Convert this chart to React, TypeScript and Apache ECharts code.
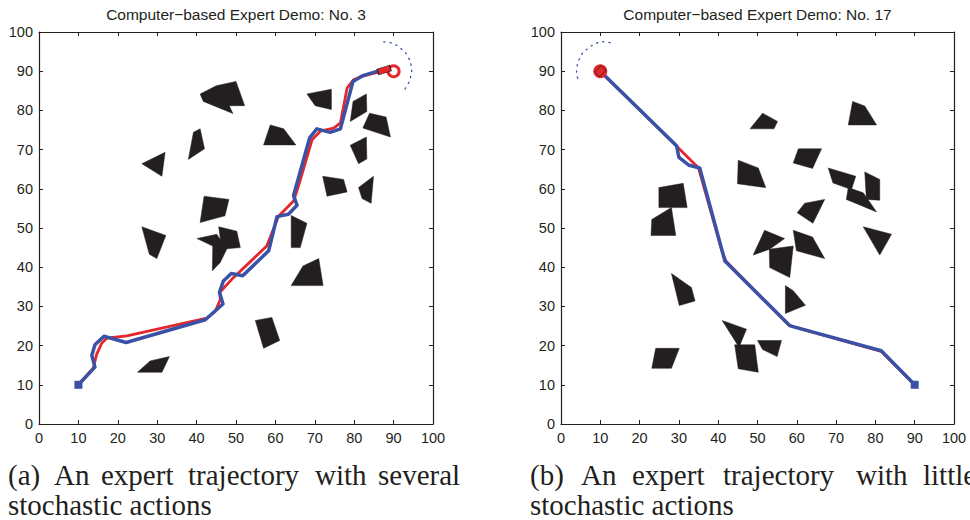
import React, { useEffect, useRef } from "react";
import * as echarts from "echarts";

// ---------- data ----------
const titleA = "Computer\u2212based Expert Demo: No. 3";
const titleB = "Computer\u2212based Expert Demo: No. 17";
const tickValues = [0, 10, 20, 30, 40, 50, 60, 70, 80, 90, 100];

const obstaclesA: number[][][] = [
  [[40.9, 84.2], [45.0, 86.3], [50.0, 87.4], [52.2, 81.2], [48.3, 81.2], [49.2, 79.2], [41.7, 82.3]],
  [[26.1, 66.4], [32.0, 69.3], [31.2, 63.2]],
  [[37.9, 67.5], [39.2, 74.4], [40.9, 75.3], [42.0, 70.2]],
  [[57.0, 71.2], [58.7, 76.3], [62.1, 75.3], [65.2, 71.2]],
  [[68.0, 84.2], [74.2, 85.4], [74.2, 80.2], [70.1, 81.2]],
  [[79.7, 82.3], [83.1, 84.2], [83.2, 79.7], [79.0, 77.2]],
  [[82.2, 75.5], [83.9, 79.3], [88.1, 78.3], [89.2, 73.2]],
  [[79.0, 71.1], [83.1, 73.2], [83.2, 67.6], [81.1, 66.4]],
  [[72.0, 63.2], [77.3, 62.4], [78.2, 59.2], [73.1, 58.1]],
  [[81.1, 60.3], [84.9, 63.2], [84.3, 56.3], [82.0, 57.5]],
  [[41.9, 58.1], [48.2, 57.3], [47.2, 53.1], [40.9, 51.4]],
  [[26.1, 50.3], [32.2, 48.1], [29.9, 42.2], [28.0, 43.3]],
  [[45.6, 50.3], [50.2, 49.2], [51.1, 45.0], [46.4, 44.6]],
  [[40.1, 47.3], [45.1, 48.4], [47.7, 44.7], [46.0, 41.2], [44.0, 39.1], [44.1, 45.4]],
  [[64.0, 53.2], [68.0, 51.2], [66.3, 45.0], [64.0, 45.0]],
  [[64.0, 35.3], [67.0, 40.3], [71.0, 42.2], [72.1, 35.3]],
  [[54.9, 26.4], [59.1, 27.2], [61.1, 21.3], [57.0, 19.3]],
  [[25.0, 13.2], [28.2, 16.1], [33.1, 17.2], [31.2, 13.2]],
];

const redPathA: number[][] = [
  [10, 10], [13.8, 14.3], [14.6, 17.7], [15.9, 20.6], [17.2, 21.9], [22.3, 22.5],
  [42.6, 27.0], [44.7, 28.7], [46.0, 31.7], [45.9, 33.6], [49.4, 37.4], [57.8, 45.4],
  [60.8, 53.0], [64.6, 56.9], [65.8, 60.5], [69.3, 72.5], [71.4, 74.7], [74.8, 75.5],
  [76.5, 76.8], [78.2, 85.7], [79.8, 87.8], [82.4, 88.8], [86.6, 89.9], [90, 90],
];
const bluePathA: number[][] = [
  [10, 10], [14.2, 14.5], [13.4, 17.5], [14.2, 20.2], [16.5, 22.4], [22.1, 20.8],
  [42.2, 26.6], [46.7, 30.6], [45.8, 33.6], [46.8, 36.5], [48.8, 38.4], [51.7, 37.8],
  [58.3, 44.2], [60.4, 52.9], [63.3, 53.5], [65.5, 55.8], [64.6, 58.3], [68.7, 73.0],
  [70.5, 75.3], [73.9, 74.4], [76.5, 75.3], [79.7, 87.4], [82.0, 88.8], [86.6, 90.2],
];
const sensorArcA: number[][] = [
  [87.5, 97.5], [89.2, 97.3], [91.0, 96.5], [93.0, 94.8], [94.3, 92.5], [94.6, 90.0],
  [94.1, 87.5], [92.8, 85.3],
];
const startA = [10, 10];
const goalA = [90, 90];
const robotA = [87.6, 90.3];

const obstaclesB: number[][][] = [
  [[48.1, 75.3], [51.3, 79.3], [55.1, 77.2], [54.2, 75.3]],
  [[73.1, 76.3], [74.2, 82.3], [77.3, 81.1], [80.3, 76.3]],
  [[59.1, 66.6], [60.4, 70.2], [66.3, 70.2], [64.0, 65.2]],
  [[44.9, 61.3], [45.1, 67.3], [50.2, 65.3], [52.1, 60.3]],
  [[24.9, 55.2], [24.9, 60.3], [31.1, 61.4], [32.1, 55.2]],
  [[22.9, 48.1], [23.1, 52.2], [28.1, 55.2], [29.2, 48.1]],
  [[68.0, 65.3], [75.0, 63.2], [73.9, 59.8], [69.2, 61.5]],
  [[72.6, 57.3], [73.1, 60.3], [76.9, 59.0], [80.3, 54.1]],
  [[77.3, 64.3], [81.1, 62.4], [81.1, 57.1], [77.7, 57.3]],
  [[60.1, 53.9], [62.0, 56.3], [67.1, 57.3], [64.1, 51.2]],
  [[76.9, 50.3], [84.1, 48.4], [81.1, 43.1]],
  [[51.8, 49.4], [56.9, 47.3], [53.1, 44.6], [48.9, 43.1]],
  [[53.0, 44.6], [59.1, 45.4], [58.2, 37.4], [53.1, 39.9]],
  [[59.1, 49.4], [64.0, 47.7], [67.1, 42.2], [59.9, 44.2]],
  [[28.1, 38.4], [33.2, 34.8], [34.1, 31.4], [30.1, 30.2]],
  [[57.1, 35.3], [59.1, 34.0], [62.2, 30.3], [57.1, 28.2]],
  [[41.0, 26.4], [47.2, 24.2], [45.3, 19.6]],
  [[44.2, 20.2], [49.3, 20.2], [50.2, 13.2], [45.1, 14.1]],
  [[50.0, 21.3], [56.1, 21.3], [55.0, 17.2], [51.3, 19.0]],
  [[24.1, 19.3], [30.1, 19.3], [28.1, 14.2], [23.1, 14.2]],
];
const redPathB: number[][] = [
  [10, 90], [29.5, 70.8], [35.0, 65.3], [41.0, 44.0], [42.0, 41.5], [58.0, 25.2],
  [59.5, 24.7], [81.5, 18.5], [90, 10],
];
const bluePathB: number[][] = [
  [10, 90], [29.4, 71.0], [30.0, 68.0], [32.6, 66.0], [35.3, 65.3], [41.0, 44.2],
  [41.7, 41.6], [58.2, 25.1], [59.5, 24.7], [81.5, 18.7], [90, 10],
];
const sensorArcB: number[][] = [
  [12.5, 97.3], [10.0, 97.6], [7.6, 96.4], [5.5, 94.7], [4.2, 92.2], [3.9, 89.5], [4.3, 88.0],
];
const startB = [10, 90];
const goalB = [90, 10];

const captionA1 = ["(a)", "An", "expert", "trajectory", "with", "several"];
const captionB1 = ["(b)", "An", "expert", "trajectory", "with", "little"];
const caption2 = "stochastic actions";

// ---------- styling / layout ----------
const RED = "#e5262b";
const BLUE = "#3a52a5";
const DARK = "#231f20";
const SANS = "'Liberation Sans', Arial, Helvetica, sans-serif";
const SERIF = "'Liberation Serif', 'Times New Roman', serif";

const gridA = { left: 39, top: 32, width: 394, height: 392 };
const gridB = { left: 561, top: 32, width: 393, height: 392 };
const captionXA = [8, 54, 101, 188, 315, 378];
const captionXB = [530, 581, 632, 723, 856, 923];

function valueAxis(pos: string, gridIndex: number, labels: boolean) {
  return {
    type: "value",
    gridIndex,
    position: pos,
    min: 0,
    max: 100,
    interval: 10,
    axisLine: { show: true, onZero: false, lineStyle: { color: DARK, width: 1.2 } },
    axisTick: { show: true, inside: true, length: 4, lineStyle: { color: DARK, width: 1 } },
    axisLabel: {
      show: labels,
      color: DARK,
      fontFamily: SANS,
      fontSize: 14.5,
      margin: 6,
      formatter: (v: number) => (tickValues.includes(v) ? String(v) : ""),
    },
    splitLine: { show: false },
  };
}

function obstacleSeries(obs: number[][][], axisIdx: number) {
  return {
    type: "custom",
    xAxisIndex: axisIdx,
    yAxisIndex: axisIdx,
    data: obs.map((_, i) => [i]),
    renderItem: (params: any, api: any) => {
      const poly = obs[params.dataIndex];
      return {
        type: "polygon",
        shape: { points: poly.map((p) => api.coord(p)) },
        style: { fill: DARK, stroke: DARK, lineWidth: 0.5 },
      };
    },
    silent: true,
    z: 1,
  };
}

function lineSeries(data: number[][], axisIdx: number, color: string, width: number, z: number, type: any = "solid") {
  return {
    type: "line",
    xAxisIndex: axisIdx,
    yAxisIndex: axisIdx,
    data,
    showSymbol: false,
    symbol: "none",
    lineStyle: { color, width, type, cap: "round", join: "round" },
    silent: true,
    z,
  };
}

function markerSeries(pt: number[], axisIdx: number, symbol: string, size: any, rotate: number, style: any, z: number) {
  return {
    type: "scatter",
    xAxisIndex: axisIdx,
    yAxisIndex: axisIdx,
    data: [pt],
    symbol,
    symbolSize: size,
    symbolRotate: rotate,
    itemStyle: { opacity: 1, ...style },
    silent: true,
    z,
  };
}

function captionTexts(words: string[], xs: number[], secondX: number) {
  const els: any[] = words.map((w, i) => ({
    type: "text",
    x: xs[i],
    y: 475,
    style: { text: w, fill: DARK, font: `29px ${SERIF}`, verticalAlign: "middle", align: "left" },
  }));
  els.push({
    type: "text",
    x: secondX,
    y: 505,
    style: { text: caption2, fill: DARK, font: `29px ${SERIF}`, verticalAlign: "middle", align: "left" },
  });
  return els;
}

export default function App() {
  const ref = useRef<HTMLDivElement>(null);

  useEffect(() => {
    document.body.style.margin = "0";
    if (!ref.current) return;
    const chart = echarts.init(ref.current, null, { renderer: "svg" });
    chart.setOption({
      animation: false,
      backgroundColor: "#ffffff",
      grid: [
        { ...gridA, containLabel: false },
        { ...gridB, containLabel: false },
      ],
      xAxis: [
        valueAxis("bottom", 0, true),
        valueAxis("top", 0, false),
        valueAxis("bottom", 1, true),
        valueAxis("top", 1, false),
      ],
      yAxis: [
        valueAxis("left", 0, true),
        valueAxis("right", 0, false),
        valueAxis("left", 1, true),
        valueAxis("right", 1, false),
      ],
      graphic: [
        {
          type: "text",
          x: gridA.left + gridA.width / 2,
          y: 14,
          style: { text: titleA, fill: DARK, font: `15.5px ${SANS}`, align: "center", verticalAlign: "middle" },
        },
        {
          type: "text",
          x: gridB.left + gridB.width / 2,
          y: 14,
          style: { text: titleB, fill: DARK, font: `15.5px ${SANS}`, align: "center", verticalAlign: "middle" },
        },
        ...captionTexts(captionA1, captionXA, 8),
        ...captionTexts(captionB1, captionXB, 530),
      ],
      series: [
        obstacleSeries(obstaclesA, 0),
        lineSeries(redPathA, 0, RED, 2.8, 3),
        lineSeries(bluePathA, 0, BLUE, 3.5, 4),
        lineSeries(sensorArcA, 0, BLUE, 1.3, 4, [1.3, 5]),
        markerSeries(startA, 0, "rect", 8, 0, { color: BLUE }, 6),
        markerSeries(goalA, 0, "circle", 11, 0, { color: "#ffffff", borderColor: RED, borderWidth: 3 }, 6),
        markerSeries(robotA, 0, "rect", [13, 6], 18, { color: RED, borderColor: DARK, borderWidth: 0.8 }, 7),

        obstacleSeries(obstaclesB, 2),
        lineSeries(redPathB, 2, RED, 2.8, 3),
        lineSeries(bluePathB, 2, BLUE, 3.5, 4),
        lineSeries(sensorArcB, 2, BLUE, 1.3, 4, [1.3, 5]),
        markerSeries(goalB, 2, "rect", 8, 0, { color: BLUE }, 6),
        markerSeries(startB, 2, "circle", 14, 0, { color: RED }, 6),
        markerSeries(startB, 2, "rect", [9, 7], 45, { color: RED, borderColor: DARK, borderWidth: 0.8 }, 7),
      ],
    });
    return () => chart.dispose();
  }, []);

  return <div ref={ref} style={{ width: 970, height: 520 }} />;
}
